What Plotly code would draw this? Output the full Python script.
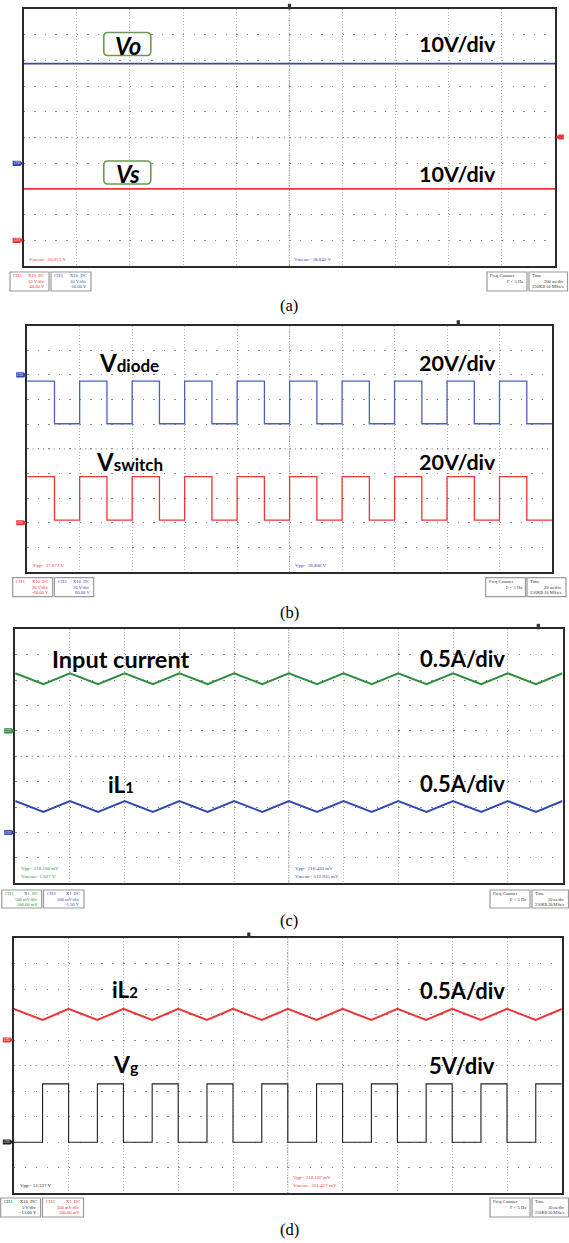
import plotly.graph_objects as go

W, H = 569, 1243

# ---------------- DATA ----------------
# (a) 200 us/div : DC voltages
a_time_us = [0, 2000]
a_vo_V = [38.84, 38.84]
a_vs_V = [20.02, 20.02]

# (b) 20 us/div : switching voltages (edge times, level after edge)
b_edge_us = [0, 10.4, 20, 30.4, 40, 50.4, 60, 70.4, 80, 90.4, 100,
             110.4, 120, 130.4, 140, 150.4, 160, 170.4, 180, 190.4, 200]
b_vdiode_V = [-5.0, -39.6, -5.0, -39.6, -5.0, -39.6, -5.0, -39.6, -5.0, -39.6, -5.0,
              -39.6, -5.0, -39.6, -5.0, -39.6, -5.0, -39.6, -5.0, -39.6, -39.6]
b_vswitch_V = [37.4, 2.2, 37.4, 2.2, 37.4, 2.2, 37.4, 2.2, 37.4, 2.2, 37.4,
               2.2, 37.4, 2.2, 37.4, 2.2, 37.4, 2.2, 37.4, 2.2, 2.2]

# (c) 20 us/div : currents (peak / valley corners)
c_time_us = [0, 10.3, 20, 30.3, 40, 50.3, 60, 70.3, 80, 90.3, 100,
             110.3, 120, 130.3, 140, 150.3, 160, 170.3, 180, 190.3, 200]
c_input_A = [1.135, 0.918, 1.135, 0.918, 1.135, 0.918, 1.135, 0.918, 1.135, 0.918, 1.135,
             0.918, 1.135, 0.918, 1.135, 0.918, 1.135, 0.918, 1.135, 0.918, 1.135]
c_il1_A = [0.62, 0.405, 0.62, 0.405, 0.62, 0.405, 0.62, 0.405, 0.62, 0.405, 0.62,
           0.405, 0.62, 0.405, 0.62, 0.405, 0.62, 0.405, 0.62, 0.405, 0.62]

# (d) 20 us/div : iL2 and gate voltage
d_time_us = [0, 10.5, 20, 30.5, 40, 50.5, 60, 70.5, 80, 90.5, 100,
             110.5, 120, 130.5, 140, 150.5, 160, 170.5, 180, 190.5, 200]
d_il2_A = [0.61, 0.393, 0.61, 0.393, 0.61, 0.393, 0.61, 0.393, 0.61, 0.393, 0.61,
           0.393, 0.61, 0.393, 0.61, 0.393, 0.61, 0.393, 0.61, 0.393, 0.61]
d_vg_V = [-0.05, 11.4, -0.05, 11.4, -0.05, 11.4, -0.05, 11.4, -0.05, 11.4, -0.05,
          11.4, -0.05, 11.4, -0.05, 11.4, -0.05, 11.4, -0.05, 11.4, 11.4]

# time base per panel (us/div)
time_per_div = [200, 20, 20, 20]
# channel settings per panel: (ground position in divisions, units per division)
chan_settings = [
    [(4, 10), (1, 10)],      # (a) CH2 Vo, CH1 Vs
    [(8, 20), (2, 20)],      # (b) CH2 Vdiode, CH1 Vswitch
    [(6, 0.5), (2, 0.5)],    # (c) CH1 input current, CH2 iL1
    [(6, 0.5), (2, 5)],      # (d) CH2 iL2, CH1 Vg
]

# ---------------- STYLE ----------------
BLUE = '#3548ad'
BLUE_L = '#4a5fc0'
RED = '#ee3434'
GREEN = '#2e8c3c'
BLACK = '#1e1e1e'
LABEL_FONT = 'Lato'
SERIF = 'Liberation Serif'

# panel frames in pixels (left, right, top, bottom)
frames = [
    (23.6, 555.0, 9.3, 266.0),
    (27.2, 552.0, 325.7, 572.0),
    (15.2, 562.5, 629.3, 883.3),
    (13.8, 561.8, 938.0, 1193.0),
]


def px(x):
    return x / W


def py(y):
    return 1 - y / H


fig = go.Figure()
layout = dict(width=W, height=H, margin=dict(l=0, r=0, t=0, b=0),
              paper_bgcolor='white', plot_bgcolor='white', showlegend=False)
shapes = []
annotations = []


def xname(n):
    return 'xaxis' if n == 1 else f'xaxis{n}'


def yname(n):
    return 'yaxis' if n == 1 else f'yaxis{n}'


def xref(n):
    return 'x' if n == 1 else f'x{n}'


def yref(n):
    return 'y' if n == 1 else f'y{n}'


for i, (l, r, t, b) in enumerate(frames):
    xi = i + 1
    yg = 3 * i + 1
    tdiv = time_per_div[i]
    step = (r - l) / 50.0
    layout[xname(xi)] = dict(
        domain=[px(l), px(r)], range=[0, 10 * tdiv], dtick=tdiv, tick0=0,
        anchor=yref(yg), showgrid=True, gridcolor='#b4b4b4', gridwidth=1,
        griddash='1px,2px', showticklabels=False, ticks='', zeroline=False,
        showline=True, mirror=True, linecolor='#2a2a2a', linewidth=1.6,
        fixedrange=True)
    layout[yname(yg)] = dict(
        domain=[py(b), py(t)], range=[0, 10], dtick=1, tick0=0,
        anchor=xref(xi), showgrid=True, gridcolor='#8a8a8a', gridwidth=1.4,
        griddash=f'1.4px,{step - 1.4:.2f}px', showticklabels=False, ticks='',
        zeroline=False, showline=True, mirror=True, linecolor='#2a2a2a',
        linewidth=1.6, fixedrange=True)
    for k, (g, s) in enumerate(chan_settings[i]):
        layout[yname(yg + 1 + k)] = dict(
            overlaying=yref(yg), anchor=xref(xi), range=[-g * s, (10 - g) * s],
            visible=False, fixedrange=True)
    # center cross lines (minor-tick dotted)
    shapes.append(dict(type='line', xref=xref(xi), yref=f'{yref(yg)} domain',
                       x0=5 * tdiv, x1=5 * tdiv, y0=0, y1=1,
                       line=dict(color='#8c8c8c', width=1, dash='1px,1.5px'), layer='below'))
    shapes.append(dict(type='line', xref=f'{xref(xi)} domain', yref=yref(yg),
                       x0=0, x1=1, y0=5, y1=5,
                       line=dict(color='#9a9a9a', width=1.2, dash=f'1.2px,{step / 2 - 1.2:.2f}px'),
                       layer='below'))

layout['annotations'] = annotations
layout['shapes'] = shapes


def add_trace(x, y, panel, slot, color, width, shape='linear'):
    fig.add_trace(go.Scatter(
        x=x, y=y, mode='lines', line=dict(color=color, width=width, shape=shape),
        xaxis=xref(panel + 1), yaxis=yref(3 * panel + 2 + slot),
        hoverinfo='skip'))


add_trace(a_time_us, a_vo_V, 0, 0, BLUE, 1.8)
add_trace(a_time_us, a_vs_V, 0, 1, RED, 1.8)
add_trace(b_edge_us, b_vdiode_V, 1, 0, BLUE_L, 1.3, 'hv')
add_trace(b_edge_us, b_vswitch_V, 1, 1, RED, 1.3, 'hv')
add_trace(c_time_us, c_input_A, 2, 0, GREEN, 2.0)
add_trace(c_time_us, c_il1_A, 2, 1, BLUE, 2.0)
add_trace(d_time_us, d_il2_A, 3, 0, RED, 2.0)
add_trace(d_time_us, d_vg_V, 3, 1, BLACK, 1.1, 'hv')


def ann(text, x, y, size, color='black', xanchor='center', yanchor='middle',
        family=LABEL_FONT, weight='normal'):
    annotations.append(dict(
        text=text, x=px(x), y=py(y), xref='paper', yref='paper',
        xanchor=xanchor, yanchor=yanchor, showarrow=False,
        font=dict(family=family, size=size, color=color, weight=weight)))


# ---- big labels ----
LW = 'bold'
# (a) rounded boxes
rbox = ('M-19.5,11.5 L19.5,11.5 Q23.5,11.5 23.5,7.5 L23.5,-7.5 Q23.5,-11.5 19.5,-11.5 '
        'L-19.5,-11.5 Q-23.5,-11.5 -23.5,-7.5 L-23.5,7.5 Q-23.5,11.5 -19.5,11.5 Z')
for cy in (44.0, 172.5):
    shapes.append(dict(type='path', xref='paper', yref='paper', xsizemode='pixel',
                       ysizemode='pixel', xanchor=px(127.3), yanchor=py(cy), path=rbox,
                       line=dict(color='#6b9a52', width=1.6), fillcolor='white'))
ann('<i>Vo</i>', 127.5, 45, 24, weight=LW)
ann('<i>Vs</i>', 127.5, 173.5, 24, weight=LW)
ann('10V/div', 457.5, 44.5, 21.5, weight=LW)
ann('10V/div', 457.5, 174, 21.5, weight=LW)

# (b)
ann('V<span style="font-size:17px">diode</span>', 97, 362, 24, xanchor='left', weight=LW)
ann('20V/div', 457, 362.5, 21.5, weight=LW)
ann('V<span style="font-size:17px">switch</span>', 94, 461.5, 24, xanchor='left', weight=LW)
ann('20V/div', 457, 461.5, 21.5, weight=LW)

# (c)
ann('Input current', 50, 658.5, 23.5, xanchor='left', weight=LW)
ann('0.5A/div', 462, 658.5, 22, weight=LW)
ann('iL<span style="font-size:15px">1</span>', 106, 784.5, 22.5, xanchor='left', weight=LW)
ann('0.5A/div', 462, 783.5, 22, weight=LW)

# (d)
ann('iL<span style="font-size:15px">2</span>', 109.5, 989.5, 22.5, xanchor='left', weight=LW)
ann('0.5A/div', 462, 990, 22, weight=LW)
ann('V<span style="font-size:16px">g</span>', 111, 1064, 23, xanchor='left', weight=LW)
ann('5V/div', 462, 1065, 22, weight=LW)

# ---- measurement readouts ----
S = 5
ann('Vmean= 20.015 V', 26.5, 259, S, RED, 'left', family=SERIF)
ann('Vmean= 38.842 V', 292, 259, S, BLUE, 'left', family=SERIF)
ann('Vpp= 37.073 V', 31, 565.7, S, RED, 'left', family=SERIF)
ann('Vpp= 38.806 V', 293, 565.7, S, BLUE, 'left', family=SERIF)
ann('Vpp= 218.108 mV', 19, 868.3, S, GREEN, 'left', family=SERIF)
ann('Vmean= 1.027 V', 19, 876.7, S, GREEN, 'left', family=SERIF)
ann('Vpp= 216.430 mV', 293, 868.3, S, BLUE, 'left', family=SERIF)
ann('Vmean= 512.935 mV', 293, 876.7, S, BLUE, 'left', family=SERIF)
ann('Vpp= 12.337 V', 18, 1185.7, S, BLACK, 'left', family=SERIF)
ann('Vpp= 218.107 mV', 291, 1177.7, S, RED, 'left', family=SERIF)
ann('Vmean= 501.457 mV', 291, 1185.7, S, RED, 'left', family=SERIF)


# ---- info boxes ----
def info_box(x0, x1, y0, y1, rows, color, size=4.6):
    shapes.append(dict(type='rect', xref='paper', yref='paper', x0=px(x0), x1=px(x1),
                       y0=py(y1), y1=py(y0), line=dict(color='#9a9a9a', width=1.2),
                       fillcolor='white'))
    offs = [3.8, 9.3, 14.5]
    for text, align, row in rows:
        if align == 'left':
            ann(text, x0 + 1.3, y0 + offs[row], size, color, 'left', family=SERIF)
        else:
            ann(text, x1 - 1.6, y0 + offs[row], size, color, 'right', family=SERIF)


def ch_rows(name, probe, vdiv, offset):
    return [(name, 'left', 0), (probe, 'right', 0), (vdiv, 'right', 1), (offset, 'right', 2)]


def freq_rows():
    return [('Freq Counter', 'left', 0), ('F < 5 Hz', 'right', 1)]


def time_rows(tdiv, rate):
    return [('Time', 'left', 0), (tdiv, 'right', 1), ('256KB', 'left', 2), (rate, 'right', 2)]


# (a)
info_box(10, 49, 272, 291, ch_rows('CH1', 'X10  DC', '10 V/div', '-40.00 V'), RED)
info_box(51, 91, 272, 291, ch_rows('CH2', 'X10  DC', '10 V/div', '-10.00 V'), BLUE)
info_box(487, 527, 272, 291, freq_rows(), '#333')
info_box(529, 567.5, 272, 291, time_rows('200 us/div', '10 MSa/s'), '#333')
# (b)
info_box(12.7, 52.6, 577.7, 596.7, ch_rows('CH1', 'X10  DC', '20 V/div', '-60.00 V'), RED)
info_box(54.4, 93.6, 577.7, 596.7, ch_rows('CH2', 'X10  DC', '20 V/div', '60.00 V'), BLUE)
info_box(485.6, 525.5, 577.7, 596.7, freq_rows(), '#333')
info_box(527, 566, 577.7, 596.7, time_rows('20 us/div', '10 MSa/s'), '#333')
# (c)
info_box(1.8, 41.7, 890, 908, ch_rows('CH1', 'X1  DC', '500 mV/div', '500.00 mV'), GREEN)
info_box(43.5, 84, 890, 908, ch_rows('CH2', 'X1  DC', '500 mV/div', '-1.50 V'), BLUE)
info_box(490, 530, 890, 908, freq_rows(), '#333')
info_box(532, 568.5, 890, 908, time_rows('20 us/div', '30 MSa/s'), '#333', 4.3)
# (d)
info_box(0.7, 40.6, 1198, 1217, ch_rows('CH1', 'X10  DC', '5 V/div', '-15.00 V'), BLACK)
info_box(42.5, 83.5, 1198, 1217, ch_rows('CH2', 'X1  DC', '500 mV/div', '500.00 mV'), RED)
info_box(490, 530, 1198, 1217, freq_rows(), '#333')
info_box(532, 568.5, 1198, 1217, time_rows('20 us/div', '30 MSa/s'), '#333', 4.3)

# ---- channel ground markers ----
marker_path = 'M-10.5,-2.6 L-3,-2.6 L0,0 L-3,2.6 L-10.5,2.6 Z'
markers = [
    (0, 0, BLUE, 'CH2'), (0, 1, RED, 'CH1'),
    (1, 0, BLUE, 'CH2'), (1, 1, RED, 'CH1'),
    (2, 0, GREEN, 'CH1'), (2, 1, BLUE, 'CH2'),
    (3, 0, RED, 'CH2'), (3, 1, BLACK, 'CH1'),
]
for p, slot, col, name in markers:
    l = frames[p][0]
    shapes.append(dict(type='path', xref='paper', yref=yref(3 * p + 2 + slot),
                       xsizemode='pixel', ysizemode='pixel', xanchor=px(l - 0.5), yanchor=0,
                       path=marker_path, fillcolor=col, line=dict(width=0)))
    annotations.append(dict(text=name, xref='paper', yref=yref(3 * p + 2 + slot),
                            x=px(l - 7), y=0, showarrow=False, xanchor='center',
                            yanchor='middle', font=dict(size=3.2, color='white', family=SERIF)))

# trigger level marker (panel a, right side)
shapes.append(dict(type='path', xref='paper', yref='paper', xsizemode='pixel',
                   ysizemode='pixel', xanchor=px(555.8), yanchor=py(137),
                   path='M0,0 L3,2.6 L8,2.6 L8,-2.6 L3,-2.6 Z', fillcolor=RED,
                   line=dict(width=0)))

# trigger position markers at top of each frame
for tx, ty in [(289.5, 9.3), (458.3, 325.7), (538.3, 629.3), (248.8, 938.0)]:
    shapes.append(dict(type='rect', xref='paper', yref='paper', x0=px(tx - 1.6), x1=px(tx + 1.6),
                       y0=py(ty), y1=py(ty - 5.5), fillcolor='#333', line=dict(width=0)))

# ---- captions ----
for cap, cy in [('(a)', 306), ('(b)', 612.5), ('(c)', 920), ('(d)', 1229)]:
    ann(cap, 289, cy, 16.5, 'black', family=SERIF)

fig.update_layout(**layout)
fig.write_html(
    'out.html', config={'displayModeBar': False},
    post_script="document.body.style.margin='0';document.body.style.padding='0';"
                "document.body.style.overflow='hidden';")
